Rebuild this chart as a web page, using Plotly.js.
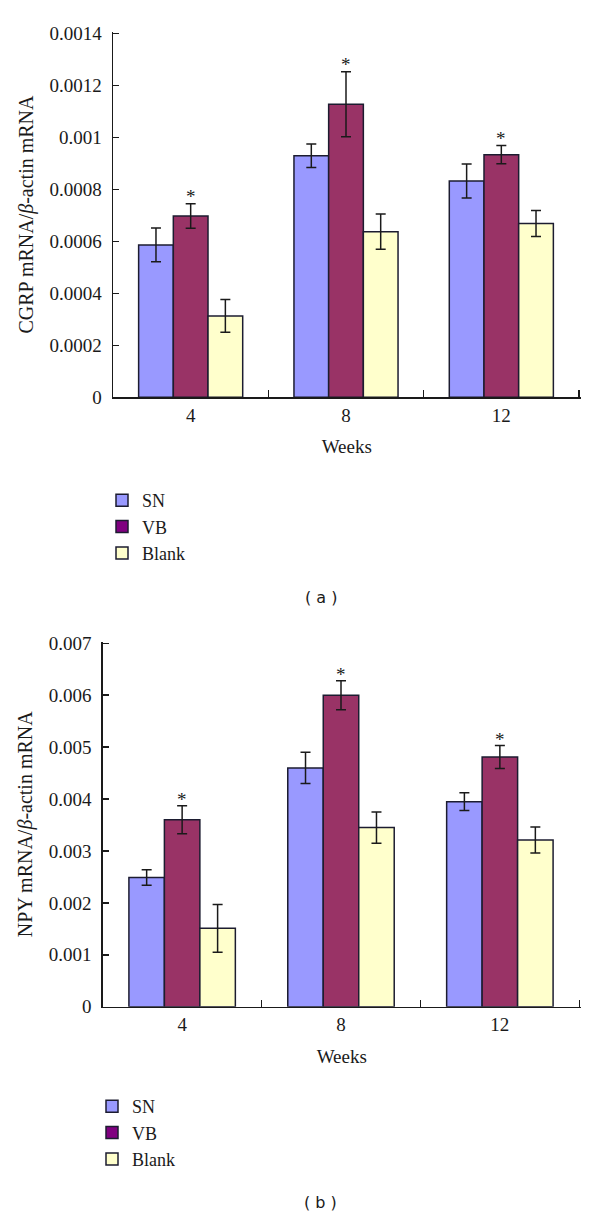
<!DOCTYPE html>
<html>
<head>
<meta charset="utf-8">
<script src="https://cdn.plot.ly/plotly-3.0.1.min.js"></script>
<style>html,body{margin:0;padding:0;background:#fff;}#chart{width:600px;height:1219px;}</style>
</head>
<body>
<div id="chart"></div>
<script>
// ---- data ----
const weeks = ["4", "8", "12"];
const groups = ["SN", "VB", "Blank"];

const cgrpSN = [0.000586, 0.000929, 0.000832];
const cgrpSNErr = [0.000065, 0.000045, 0.000065];
const cgrpVB = [0.000697, 0.001127, 0.000933];
const cgrpVBErr = [0.000047, 0.000125, 0.000035];
const cgrpBlank = [0.000313, 0.000637, 0.000668];
const cgrpBlankErr = [0.000063, 0.000068, 0.000050];

const npySN = [0.00249, 0.00460, 0.00395];
const npySNErr = [0.00015, 0.00030, 0.00017];
const npyVB = [0.00360, 0.00600, 0.00481];
const npyVBErr = [0.00027, 0.00028, 0.00022];
const npyBlank = [0.00151, 0.00345, 0.00321];
const npyBlankErr = [0.00046, 0.00030, 0.00025];

const cgrpSig = ["*", "*", "*"];
const npySig = ["*", "*", "*"];

const cgrpTickVals = [0, 0.0002, 0.0004, 0.0006, 0.0008, 0.001, 0.0012, 0.0014];
const cgrpTickText = ["0", "0.0002", "0.0004", "0.0006", "0.0008", "0.001", "0.0012", "0.0014"];
const npyTickVals = [0, 0.001, 0.002, 0.003, 0.004, 0.005, 0.006, 0.007];
const npyTickText = ["0", "0.001", "0.002", "0.003", "0.004", "0.005", "0.006", "0.007"];

// ---- styles ----
const barColors = {SN: "#9999FF", VB: "#993366", Blank: "#FFFFCC"};
const legendColors = {SN: "#9999FF", VB: "#800080", Blank: "#FFFFCC"};
const serif = "Liberation Serif, Times New Roman, serif";
const ink = "#1a1a1a";

function barTrace(name, vals, errs, xa, ya) {
  return {
    type: "bar", name: name, x: weeks, y: vals,
    xaxis: xa, yaxis: ya, offsetgroup: name, showlegend: false,
    marker: {color: barColors[name], line: {color: "#1c1c30", width: 1.5}},
    error_y: {type: "data", array: errs, visible: true, color: ink, thickness: 1.5, width: 5},
    hoverinfo: "skip"
  };
}
function legendTrace(name, xa, ya, leg) {
  return {
    type: "bar", name: name, x: weeks, y: weeks.map(() => null),
    xaxis: xa, yaxis: ya, offsetgroup: name, legend: leg, showlegend: true,
    marker: {color: legendColors[name], line: {color: "#1c1c30", width: 1.5}},
    hoverinfo: "skip"
  };
}
// empty trace so the overlay axis carrying the boundary ticks gets drawn
function axisCarrier(xa, ya) {
  return {type: "scatter", mode: "markers", x: [], y: [], xaxis: xa, yaxis: ya,
    showlegend: false, hoverinfo: "skip"};
}

const traces = [
  barTrace("SN", cgrpSN, cgrpSNErr, "x", "y"),
  barTrace("VB", cgrpVB, cgrpVBErr, "x", "y"),
  barTrace("Blank", cgrpBlank, cgrpBlankErr, "x", "y"),
  legendTrace("SN", "x", "y", "legend"),
  legendTrace("VB", "x", "y", "legend"),
  legendTrace("Blank", "x", "y", "legend"),
  barTrace("SN", npySN, npySNErr, "x2", "y2"),
  barTrace("VB", npyVB, npyVBErr, "x2", "y2"),
  barTrace("Blank", npyBlank, npyBlankErr, "x2", "y2"),
  legendTrace("SN", "x2", "y2", "legend2"),
  legendTrace("VB", "x2", "y2", "legend2"),
  legendTrace("Blank", "x2", "y2", "legend2"),
  axisCarrier("x3", "y"),
  axisCarrier("x4", "y2")
];

const H = 1219, W = 600;
function py(p) { return (H - p) / H; }
function px(p) { return p / W; }
// Plotly drops inside ticks sitting exactly on the plot edge; pad the edge by a pixel and a half
const padPx = 1.5;

// plot frames in pixels (left, right, top, bottom)
const f1 = {l: 113, r: 579, t: 33.3, b: 397.3};
const f2 = {l: 102.7, r: 579.3, t: 643.3, b: 1006.7};
function xRangeEnd(f) { return weeks.length - 0.5 + padPx * weeks.length / (f.r - f.l); }
function yRangeTop(f, vals) { return vals[vals.length - 1] * (1 + padPx / (f.b - f.t)); }

const xAxisBase = {
  type: "category", categoryorder: "array", categoryarray: weeks,
  autorange: false,
  ticks: "", showline: true, linecolor: ink, linewidth: 1.5,
  showgrid: false, zeroline: false, fixedrange: true,
  tickfont: {family: serif, size: 19, color: ink}, ticklabelstandoff: 0,
  title: {text: "Weeks", font: {family: serif, size: 19, color: ink}, standoff: 15}
};
// boundary ticks between the week groups (overlay axis on the same scale)
const boundaryTicks = weeks.map((w, i) => i + 0.5);
function boundaryAxis(over, anchor, f) {
  return {
    overlaying: over, anchor: anchor, domain: [px(f.l), px(f.r + padPx)], type: "linear",
    range: [-0.5, xRangeEnd(f)], autorange: false,
    tickvals: boundaryTicks, ticks: "inside", ticklen: 7, tickwidth: 1.5, tickcolor: ink,
    showticklabels: false, showline: false, showgrid: false, zeroline: false, fixedrange: true
  };
}
function yAxisBase(vals, text, f, title, anchor) {
  return {
    range: [0, yRangeTop(f, vals)], autorange: false, domain: [py(f.b), py(f.t - padPx)],
    tickvals: vals, ticktext: text, ticks: "inside", ticklen: 6, tickwidth: 1.5,
    tickcolor: ink, showline: true, linecolor: ink, linewidth: 1.5,
    showgrid: false, zeroline: false, fixedrange: true, anchor: anchor,
    tickfont: {family: serif, size: 19, color: ink}, ticklabelstandoff: 6,
    title: {text: title, font: {family: serif, size: 20, color: ink}, standoff: 10}
  };
}

const annotations = [];
weeks.forEach((w, i) => {
  annotations.push({x: i, y: cgrpVB[i] + cgrpVBErr[i], xref: "x", yref: "y", text: cgrpSig[i],
    showarrow: false, yanchor: "bottom", yshift: -5, font: {family: serif, size: 19, color: ink}});
  annotations.push({x: i, y: npyVB[i] + npyVBErr[i], xref: "x2", yref: "y2", text: npySig[i],
    showarrow: false, yanchor: "bottom", yshift: -6, font: {family: serif, size: 19, color: ink}});
});
annotations.push({x: px(321), y: py(597), xref: "paper", yref: "paper", text: "( a )", showarrow: false,
  xanchor: "center", yanchor: "middle", font: {family: "DejaVu Sans, Verdana, sans-serif", size: 16, color: ink}});
annotations.push({x: px(320), y: py(1202), xref: "paper", yref: "paper", text: "( b )", showarrow: false,
  xanchor: "center", yanchor: "middle", font: {family: "DejaVu Sans, Verdana, sans-serif", size: 16, color: ink}});

const layout = {
  width: W, height: H,
  margin: {l: 0, r: 0, t: 0, b: 0},
  paper_bgcolor: "#ffffff", plot_bgcolor: "#ffffff",
  barmode: "group", bargap: 0.33, bargroupgap: 0,
  xaxis: Object.assign({}, xAxisBase, {domain: [px(f1.l), px(f1.r + padPx)], range: [-0.5, xRangeEnd(f1)], anchor: "y"}),
  yaxis: yAxisBase(cgrpTickVals, cgrpTickText, f1, "CGRP mRNA/<i>β</i>-actin mRNA", "x"),
  xaxis2: Object.assign({}, xAxisBase, {domain: [px(f2.l), px(f2.r + padPx)], range: [-0.5, xRangeEnd(f2)], anchor: "y2"}),
  yaxis2: yAxisBase(npyTickVals, npyTickText, f2, "NPY mRNA/<i>β</i>-actin mRNA", "x2"),
  xaxis3: boundaryAxis("x", "y", f1),
  xaxis4: boundaryAxis("x2", "y2", f2),
  legend: {x: px(102), y: py(482), xanchor: "left", yanchor: "top", orientation: "v",
    font: {family: serif, size: 18, color: ink}, bgcolor: "rgba(0,0,0,0)", traceorder: "normal"},
  legend2: {x: px(92), y: py(1088), xanchor: "left", yanchor: "top", orientation: "v",
    font: {family: serif, size: 18, color: ink}, bgcolor: "rgba(0,0,0,0)", traceorder: "normal"},
  annotations: annotations,
  showlegend: true
};

Plotly.newPlot("chart", traces, layout, {staticPlot: true, displayModeBar: false});
</script>
</body>
</html>
